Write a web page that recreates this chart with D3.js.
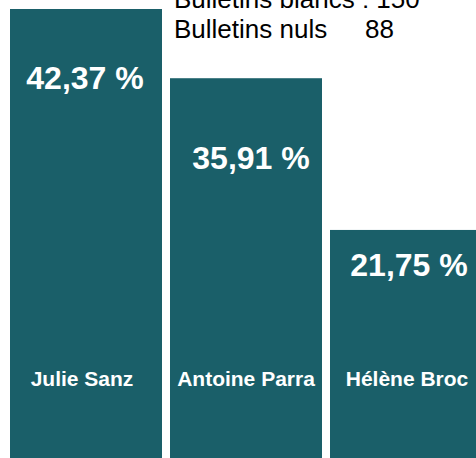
<!DOCTYPE html>
<html><head><meta charset="utf-8">
<script src="https://cdn.jsdelivr.net/npm/d3@7"></script>
<style>body{margin:0;background:#fff}svg{display:block}text{font-family:"Liberation Sans",Arial,Helvetica,sans-serif}</style>
</head><body>
<script>
const candidates = ["Julie Sanz", "Antoine Parra", "Hélène Broc"];
const percents = [42.37, 35.91, 21.75];
const percentLabels = ["42,37 %", "35,91 %", "21,75 %"];
const legendLabels = ["Bulletins blancs : 150", "Bulletins nuls"];
const legendValues = ["", "88"];

const W = 476, H = 458;
const barColor = "#1a5f69";
const labelOffsets = [80, 91, 46];
const labelShift = [-1, 5, 3];
const nameShift = [-4, 0, 1];

const svg = d3.select("body").append("svg").attr("width", W).attr("height", H);
const x = d3.scaleBand().domain(candidates).range([10, 482]).paddingInner(0.05).paddingOuter(0);
const y = d3.scaleLinear().domain([0, d3.max(percents)]).range([463, 9]);

svg.selectAll("rect.bar").data(candidates).join("rect").attr("class", "bar")
  .attr("x", d => x(d)).attr("width", x.bandwidth())
  .attr("y", (d, i) => y(percents[i])).attr("height", (d, i) => y(0) - y(percents[i]))
  .attr("fill", barColor);

svg.selectAll("text.pct").data(candidates).join("text").attr("class", "pct")
  .attr("x", (d, i) => x(d) + x.bandwidth() / 2 + labelShift[i])
  .attr("y", (d, i) => y(percents[i]) + labelOffsets[i])
  .attr("text-anchor", "middle").attr("fill", "#fff")
  .attr("font-weight", "bold").attr("font-size", 32)
  .text((d, i) => percentLabels[i]);

svg.selectAll("text.name").data(candidates).join("text").attr("class", "name")
  .attr("x", (d, i) => x(d) + x.bandwidth() / 2 + nameShift[i])
  .attr("y", 386)
  .attr("text-anchor", "middle").attr("fill", "#fff")
  .attr("font-weight", "bold").attr("font-size", 21)
  .text(d => d);

const lg = svg.append("g").attr("transform", "translate(174,0)");
lg.selectAll("text.lab").data(legendLabels).join("text").attr("class", "lab")
  .attr("x", 0).attr("y", (d, i) => 8 + i * 30)
  .attr("font-size", 26).attr("fill", "#000").text(d => d);
lg.selectAll("text.val").data(legendValues).join("text").attr("class", "val")
  .attr("x", 191).attr("y", (d, i) => 8 + i * 30)
  .attr("font-size", 26).attr("fill", "#000").text(d => d);
</script>
</body></html>
